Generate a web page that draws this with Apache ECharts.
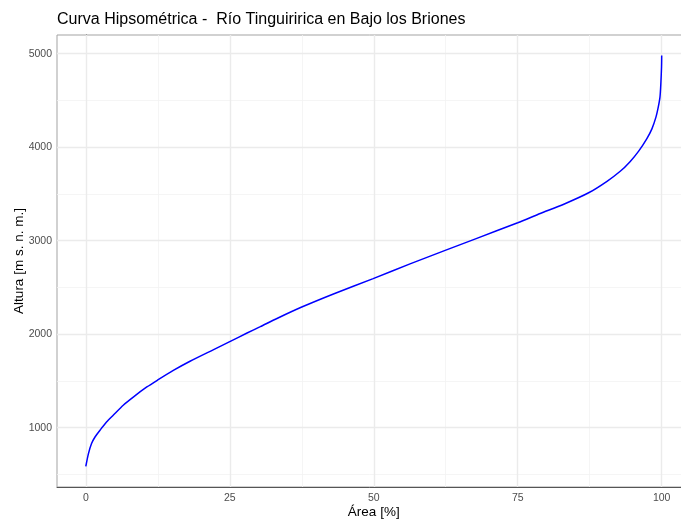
<!DOCTYPE html>
<html>
<head>
<meta charset="utf-8">
<script src="https://cdn.jsdelivr.net/npm/echarts@6/dist/echarts.min.js"></script>
<style>
  html, body { margin: 0; padding: 0; background: #ffffff; }
  #chart { width: 681px; height: 523px; }
</style>
</head>
<body>
<div id="chart"></div>
<script>
// Hypsometric curve: cumulative basin area (%) above each elevation
const areaPct = [0, 0.45, 1.0, 1.6, 2.5, 3.6, 4.8, 6.5, 8.3, 10.6, 12.5, 15.2, 18.1, 22.2, 25.0, 28.0, 30.3, 33.2, 37.5, 43.0, 49.9, 56.3, 62.4, 67.9, 75.0, 78.9, 83.0, 87.4, 90.5, 92.8, 94.5, 96.0, 97.4, 98.3, 99.0, 99.4, 99.7, 99.85, 99.97, 100];
const altura = [585, 720, 830, 900, 975, 1060, 1135, 1240, 1330, 1435, 1510, 1612, 1710, 1835, 1920, 2012, 2080, 2168, 2290, 2430, 2594, 2752, 2896, 3025, 3192, 3290, 3390, 3515, 3635, 3742, 3845, 3958, 4089, 4196, 4321, 4428, 4535, 4678, 4857, 4980];

// Tick labels and grid breaks
const xTicks = [0, 25, 50, 75, 100];
const xMinorBreaks = [12.5, 37.5, 62.5, 87.5];
const yTicks = [1000, 2000, 3000, 4000, 5000];
const yMinorBreaks = [500, 1500, 2500, 3500, 4500];

// Axis limits padded 5% beyond the data range
const xMin = -5, xMax = 105;
const yLo = Math.min(...altura), yHi = Math.max(...altura);
const yPad = (yHi - yLo) * 0.05;
const yMin = yLo - yPad, yMax = yHi + yPad;

const FONT = 'Liberation Sans, Arial, sans-serif';
const majorStyle = { color: '#EBEBEB', width: 1.4, type: 'solid' };
const minorStyle = { color: '#F3F3F3', width: 0.8, type: 'solid' };

const gridLines = []
  .concat(xMinorBreaks.map(v => ({ xAxis: v, lineStyle: minorStyle })))
  .concat(yMinorBreaks.map(v => ({ yAxis: v, lineStyle: minorStyle })))
  .concat(xTicks.map(v => ({ xAxis: v, lineStyle: majorStyle })))
  .concat(yTicks.map(v => ({ yAxis: v, lineStyle: majorStyle })));

const chart = echarts.init(document.getElementById('chart'), null, { renderer: 'canvas' });
chart.setOption({
  animation: false,
  backgroundColor: '#ffffff',
  title: {
    text: 'Curva Hipsométrica -  Río Tinguiririca en Bajo los Briones',
    left: 57, top: 12, padding: 0,
    textStyle: { fontFamily: FONT, fontSize: 16, fontWeight: 'normal', color: '#000000' }
  },
  grid: {
    left: 57, top: 35, width: 633.5, height: 452,
    outerBoundsMode: 'none', containLabel: false,
    show: true, borderColor: '#a3a3a3', borderWidth: 1, backgroundColor: 'transparent'
  },
  xAxis: {
    type: 'value', min: xMin, max: xMax,
    name: 'Área [%]', nameLocation: 'middle', nameGap: 18, nameMoveOverlap: false,
    nameTextStyle: { fontFamily: FONT, fontSize: 13.5, color: '#000000' },
    axisLine: { show: true, lineStyle: { color: '#555555', width: 1 } },
    axisTick: { show: false },
    splitLine: { show: false },
    axisLabel: { customValues: xTicks, formatter: v => String(v), fontFamily: FONT, fontSize: 10.5, color: '#4D4D4D', margin: 6 }
  },
  yAxis: {
    type: 'value', min: yMin, max: yMax,
    name: 'Altura [m s. n. m.]', nameLocation: 'middle', nameGap: 31, nameRotate: 90, nameMoveOverlap: false,
    nameTextStyle: { fontFamily: FONT, fontSize: 13.5, color: '#000000' },
    axisLine: { show: true, lineStyle: { color: '#555555', width: 1 } },
    axisTick: { show: false },
    splitLine: { show: false },
    axisLabel: { customValues: yTicks, formatter: v => String(v), fontFamily: FONT, fontSize: 10.5, color: '#4D4D4D', margin: 5 }
  },
  series: [{
    type: 'line',
    data: areaPct.map((a, i) => [a, altura[i]]),
    showSymbol: false,
    smooth: 0.25,
    z: 5,
    lineStyle: { color: '#0000FF', width: 1.5 },
    markLine: {
      silent: true, symbol: 'none', z: 1,
      label: { show: false },
      emphasis: { disabled: true },
      data: gridLines
    }
  }]
});
</script>
</body>
</html>
